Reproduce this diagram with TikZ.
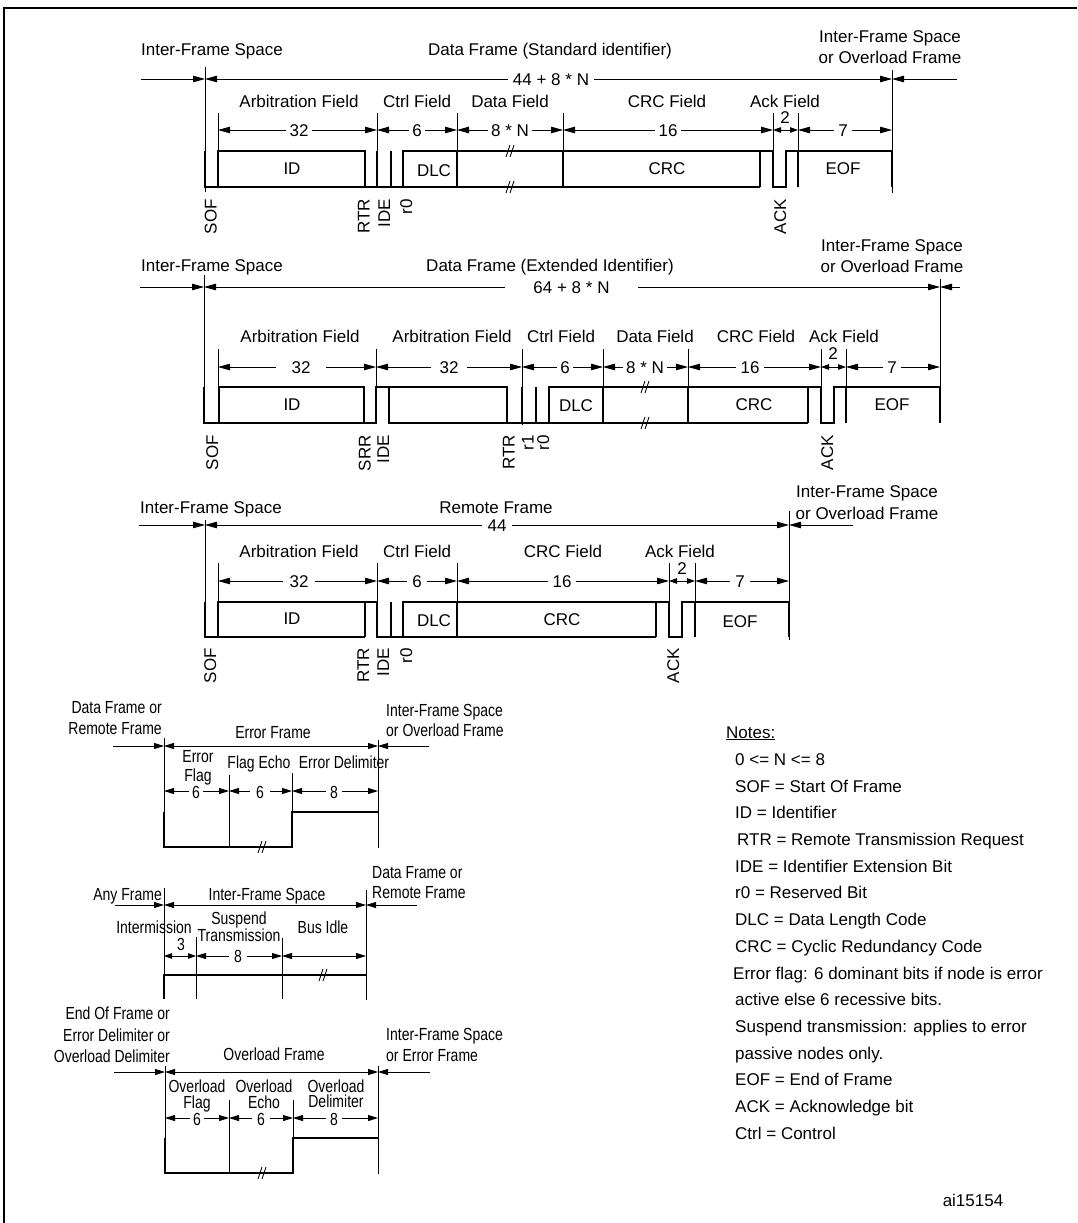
\documentclass[tikz,border=0pt]{standalone}
\usepackage{fontspec}
\setmainfont{Liberation Sans}
\newfontfamily\narrowfont[FakeStretch=0.8]{Liberation Sans}
\usetikzlibrary{arrows.meta}
\newcommand\dimto[5]{\coordinate (#2a) at (#3,#5); \coordinate (#2b) at (#4,#5); \draw[#1] (#2a) -- (#2b);}
\newcommand\brk[3]{\draw[thinln] (#2-4,#3+6) -- (#2,#3-6) (#2,#3+6) -- (#2+4,#3-6);}
\begin{document}
\begin{tikzpicture}[x=1pt,y=-1pt,
  thinln/.style={line width=0.9pt},
  wave/.style={line width=1.9pt, line join=miter},
  dimL/.style={line width=0.9pt, {Triangle[length=12pt,width=6.5pt]}-{Triangle[length=12pt,width=6.5pt]}},
  dimM/.style={line width=0.9pt, {Triangle[length=10pt,width=6pt]}-{Triangle[length=10pt,width=6pt]}},
  dimS/.style={line width=0.9pt, {Triangle[length=8pt,width=5.5pt]}-{Triangle[length=8pt,width=5.5pt]}},
  inL/.style={line width=0.9pt, -{Triangle[length=12pt,width=6.5pt]}},
  inM/.style={line width=0.9pt, -{Triangle[length=10pt,width=6pt]}},
  txt/.style={font=\fontsize{17}{20}\selectfont, inner sep=0pt, text height=12.2pt, text depth=0pt},
  ntxt/.style={font=\narrowfont\fontsize{17.5}{20}\selectfont, inner sep=0pt, text height=12.5pt, text depth=0pt},
  num/.style={txt, fill=white, inner ysep=1pt},
  nnum/.style={ntxt, fill=white, inner ysep=0pt},
  rot/.style={txt, rotate=90, anchor=east},
  note/.style={txt, anchor=west},
]
\useasboundingbox (0,0) rectangle (1077,1223);
% frame
\draw[line width=1.5pt] (4,1223) -- (4,8) -- (1077,8);

%% ================= Section 1: standard data frame
\node[txt] (s1ifs) at (212,49) {Inter-Frame Space};
\node[txt] (s1tt) at (550,49) {Data Frame (Standard identifier)};
\node[txt] (s1ra) at (890,36.5) {Inter-Frame Space};
\node[txt] (s1rb) at (890,57.5) {or Overload Frame};
\draw[thinln] (205,67) -- (205,192);
\draw[thinln] (892,70) -- (892,193);
\coordinate (s1o1) at (141,79); \coordinate (s1L) at (205,79);
\coordinate (s1R) at (892,79); \coordinate (s1o2) at (957,79);
\draw[inL] (s1o1) -- (s1L);
\draw[inL] (s1o2) -- (s1R);
\draw[dimL] (s1L) -- (s1R);
\node[num, inner xsep=5pt] (s1tot) at (551,79) {44 + 8 * N};
\node[txt] (s1f1) at (299,101) {Arbitration Field};
\node[txt] (s1f2) at (417,101) {Ctrl Field};
\node[txt] (s1f3) at (510,101) {Data Field};
\node[txt] (s1f4) at (667,101) {CRC Field};
\node[txt] (s1f5) at (785,101) {Ack Field};
\draw[thinln] (218,113) -- (218,151);
\draw[thinln] (377,113) -- (377,187);
\draw[thinln] (457,113) -- (457,187);
\draw[thinln] (563,113) -- (563,187);
\draw[thinln] (773,113) -- (773,151);
\draw[thinln] (798,113) -- (798,187);
\dimto{dimL}{s1d1}{218}{377}{130}
\dimto{dimL}{s1d2}{377}{457}{130}
\dimto{dimL}{s1d3}{457}{563}{130}
\dimto{dimL}{s1d4}{563}{773}{130}
\dimto{dimS}{s1d5}{773}{798}{130}
\dimto{dimL}{s1d6}{798}{892}{130}
\node[num, inner xsep=4pt] (s1n1) at (299,130) {32};
\node[num, inner xsep=3pt] (s1n2) at (417,130) {6};
\node[num, inner xsep=3pt] (s1n3) at (510,130) {8 * N};
\node[num, inner xsep=4pt] (s1n4) at (668,130) {16};
\node[txt] (s1n5) at (785,117) {2};
\node[num, inner xsep=4pt] (s1n6) at (843,130) {7};
\draw[wave] (205,151) -- (205,187) -- (760,187);
\draw[wave] (218,187) -- (218,151) -- (365,151) -- (365,187);
\draw[wave] (377,151) -- (377,187);
\draw[wave] (391,151) -- (391,187);
\draw[wave] (403,187) -- (403,151) -- (773,151) -- (773,187) -- (786,187) -- (786,151) -- (892,151) -- (892,187);
\draw[wave] (457,151) -- (457,187);
\draw[wave] (563,151) -- (563,187);
\draw[wave] (760,151) -- (760,187);
\draw[wave] (798,151) -- (798,187);
\brk{}{510}{151} \brk{}{510}{187}
\node[txt] (s1id) at (292,168) {ID};
\node[txt] (s1dlc) at (434,170) {DLC};
\node[txt] (s1crc) at (667,168) {CRC};
\node[txt] (s1eof) at (843,168) {EOF};
\node[rot] (s1sof) at (210.5,199) {SOF};
\node[rot] (s1rtr) at (363.5,199) {RTR};
\node[rot] (s1ide) at (384,199) {IDE};
\node[rot] (s1r0) at (406,199) {r0};
\node[rot] (s1ack) at (780,199) {ACK};

%% ================= Section 2: extended data frame
\node[txt] (s2ifs) at (212,265) {Inter-Frame Space};
\node[txt] (s2tt) at (550,265) {Data Frame (Extended Identifier)};
\node[txt] (s2ra) at (892,245) {Inter-Frame Space};
\node[txt] (s2rb) at (892,266) {or Overload Frame};
\draw[thinln] (204,275) -- (204,423);
\draw[thinln] (940,279) -- (940,423);
\coordinate (s2o1) at (140,287); \coordinate (s2L) at (204,287);
\coordinate (s2R) at (940,287); \coordinate (s2o2) at (960,287);
\draw[inL] (s2o1) -- (s2L);
\draw[inL] (s2o2) -- (s2R);
\draw[dimL] (s2L) -- (s2R);
\node[num, inner xsep=28pt] (s2tot) at (571.5,287) {64 + 8 * N};
\node[txt] (s2f1) at (300,336) {Arbitration Field};
\node[txt] (s2f2) at (452,336) {Arbitration Field};
\node[txt] (s2f3) at (561,336) {Ctrl Field};
\node[txt] (s2f4) at (655,336) {Data Field};
\node[txt] (s2f5) at (756,336) {CRC Field};
\node[txt] (s2f6) at (844,336) {Ack Field};
\draw[thinln] (218,349) -- (218,387);
\draw[thinln] (376,349) -- (376,423);
\draw[thinln] (522,349) -- (522,425);
\draw[thinln] (603,349) -- (603,423);
\draw[thinln] (688,349) -- (688,423);
\draw[thinln] (821,349) -- (821,387);
\draw[thinln] (846,349) -- (846,423);
\dimto{dimL}{s2d1}{218}{376}{367}
\dimto{dimL}{s2d2}{376}{522}{367}
\dimto{dimL}{s2d3}{522}{603}{367}
\dimto{dimL}{s2d4}{603}{688}{367}
\dimto{dimL}{s2d5}{688}{821}{367}
\dimto{dimS}{s2d6}{821}{846}{367}
\dimto{dimL}{s2d7}{846}{940}{367}
\node[num, inner xsep=16pt] (s2n1) at (301,367) {32};
\node[num, inner xsep=9pt] (s2n2) at (449,367) {32};
\node[num, inner xsep=3pt] (s2n3) at (565,367) {6};
\node[num, inner xsep=3pt] (s2n4) at (645,367) {8 * N};
\node[num, inner xsep=5pt] (s2n5) at (750,367) {16};
\node[txt] (s2n6) at (833,353) {2};
\node[num, inner xsep=4pt] (s2n7) at (892,367) {7};
\draw[wave] (204,387) -- (204,423) -- (376,423) -- (376,387) -- (389,387) -- (389,423) -- (808,423);
\draw[wave] (219,423) -- (219,387) -- (364,387) -- (364,423);
\draw[wave] (389,387) -- (507,387) -- (507,423);
\draw[wave] (522,387) -- (522,423);
\draw[wave] (536,387) -- (536,423);
\draw[wave] (549,423) -- (549,387) -- (821,387) -- (821,423) -- (834,423) -- (834,387) -- (940,387) -- (940,423);
\draw[wave] (603,387) -- (603,423);
\draw[wave] (688,387) -- (688,423);
\draw[wave] (808,387) -- (808,423);
\draw[wave] (846,387) -- (846,423);
\brk{}{645}{387} \brk{}{645}{423}
\node[txt] (s2id) at (292,404) {ID};
\node[txt] (s2dlc) at (576,405) {DLC};
\node[txt] (s2crc) at (754,404) {CRC};
\node[txt] (s2eof) at (892,404) {EOF};
\node[rot] (s2sof) at (212,435) {SOF};
\node[rot] (s2srr) at (364.5,435) {SRR};
\node[rot] (s2ide) at (383,435) {IDE};
\node[rot] (s2rtr) at (508.5,435) {RTR};
\node[rot] (s2r1) at (527.5,435) {r1};
\node[rot] (s2r0) at (543,435) {r0};
\node[rot] (s2ack) at (827,435) {ACK};

%% ================= Section 3: remote frame
\node[txt] (s3ifs) at (211,507.5) {Inter-Frame Space};
\node[txt] (s3tt) at (496,507.5) {Remote Frame};
\node[txt] (s3ra) at (867,491.5) {Inter-Frame Space};
\node[txt] (s3rb) at (867,513) {or Overload Frame};
\draw[thinln] (205,520) -- (205,637);
\draw[thinln] (789,511) -- (789,640);
\coordinate (s3o1) at (139,525); \coordinate (s3L) at (205,525);
\coordinate (s3R) at (789,525); \coordinate (s3o2) at (853,525);
\draw[inL] (s3o1) -- (s3L);
\draw[inL] (s3o2) -- (s3R);
\draw[dimL] (s3L) -- (s3R);
\node[num, inner xsep=5.5pt] (s3tot) at (497,525) {44};
\node[txt] (s3f1) at (299,551) {Arbitration Field};
\node[txt] (s3f2) at (417,551) {Ctrl Field};
\node[txt] (s3f3) at (563,551) {CRC Field};
\node[txt] (s3f4) at (680,551) {Ack Field};
\draw[thinln] (218,563) -- (218,602);
\draw[thinln] (377,563) -- (377,637);
\draw[thinln] (457,563) -- (457,637);
\draw[thinln] (669,563) -- (669,602);
\draw[thinln] (695,563) -- (695,637);
\dimto{dimL}{s3d1}{218}{377}{581}
\dimto{dimL}{s3d2}{377}{457}{581}
\dimto{dimL}{s3d3}{457}{669}{581}
\dimto{dimS}{s3d4}{669}{695}{581}
\dimto{dimL}{s3d5}{695}{789}{581}
\node[num, inner xsep=7pt] (s3n1) at (299,581) {32};
\node[num, inner xsep=5pt] (s3n2) at (417,581) {6};
\node[num, inner xsep=4.5pt] (s3n3) at (562,581) {16};
\node[txt] (s3n4) at (682,568) {2};
\node[num, inner xsep=5.5pt] (s3n5) at (740,581) {7};
\draw[wave] (205,602) -- (205,637) -- (365,637);
\draw[wave] (218,637) -- (218,602) -- (377,602) -- (377,637) -- (656,637);
\draw[wave] (365,602) -- (365,637);
\draw[wave] (391,602) -- (391,637);
\draw[wave] (403,637) -- (403,602) -- (669,602) -- (669,637) -- (682,637) -- (682,602) -- (789,602) -- (789,637);
\draw[wave] (457,602) -- (457,637);
\draw[wave] (656,602) -- (656,637);
\draw[wave] (695,602) -- (695,637);
\node[txt] (s3id) at (292,618) {ID};
\node[txt] (s3dlc) at (434,620) {DLC};
\node[txt] (s3crc) at (562,619) {CRC};
\node[txt] (s3eof) at (740,621) {EOF};
\node[rot] (s3sof) at (210,648) {SOF};
\node[rot] (s3rtr) at (363,648) {RTR};
\node[rot] (s3ide) at (383,648) {IDE};
\node[rot] (s3r0) at (406,648) {r0};
\node[rot] (s3ack) at (673,648) {ACK};

%% ================= Section 4: error frame
\node[ntxt, anchor=east] (s4la) at (162,707.5) {Data Frame or};
\node[ntxt, anchor=east] (s4lb) at (162,728) {Remote Frame};
\node[ntxt] (s4tt) at (273,732) {Error Frame};
\node[ntxt, anchor=west] (s4ra) at (386,710) {Inter-Frame Space};
\node[ntxt, anchor=west] (s4rb) at (386,730) {or Overload Frame};
\draw[thinln] (164,738) -- (164,847);
\draw[thinln] (378,740) -- (378,848);
\coordinate (s4o1) at (113,746); \coordinate (s4L) at (164,746);
\coordinate (s4R) at (378,746); \coordinate (s4o2) at (429,746);
\draw[inM] (s4o1) -- (s4L);
\draw[inM] (s4o2) -- (s4R);
\draw[dimM] (s4L) -- (s4R);
\node[ntxt] (s4f1a) at (198,756) {Error};
\node[ntxt] (s4f1b) at (198,775) {Flag};
\node[ntxt] (s4f2) at (259,762) {Flag Echo};
\node[ntxt] (s4f3) at (344,762) {Error Delimiter};
\draw[thinln] (229,775) -- (229,847);
\draw[thinln] (292,773) -- (292,812);
\dimto{dimM}{s4d1}{164}{229}{791}
\dimto{dimM}{s4d2}{229}{292}{791}
\dimto{dimM}{s4d3}{292}{378}{791}
\node[nnum, inner xsep=3pt] (s4n1) at (196,792) {6};
\node[nnum, inner xsep=6pt] (s4n2) at (260,792) {6};
\node[nnum, inner xsep=4pt] (s4n3) at (334,792) {8};
\draw[wave] (164,812) -- (164,847) -- (292,847) -- (292,812) -- (378,812);
\brk{}{262}{847}

%% ================= Section 5: inter-frame space
\node[ntxt, anchor=east] (s5la) at (162,894) {Any Frame};
\node[ntxt] (s5tt) at (267,894) {Inter-Frame Space};
\node[ntxt, anchor=west] (s5ra) at (372,872) {Data Frame or};
\node[ntxt, anchor=west] (s5rb) at (372,892) {Remote Frame};
\draw[thinln] (164,888) -- (164,999);
\draw[thinln] (366,890) -- (366,1000);
\coordinate (s5o1) at (115,905); \coordinate (s5L) at (164,905);
\coordinate (s5R) at (366,905); \coordinate (s5o2) at (417,905);
\draw[inM] (s5o1) -- (s5L);
\draw[inM] (s5o2) -- (s5R);
\draw[dimM] (s5L) -- (s5R);
\node[ntxt] (s5f1) at (154,927) {Intermission};
\node[ntxt] (s5f2a) at (239,918) {Suspend};
\node[ntxt] (s5f2b) at (239,935) {Transmission};
\node[ntxt] (s5f3) at (323,927) {Bus Idle};
\node[ntxt] (s5n1) at (181,944) {3};
\draw[thinln] (196,937) -- (196,999);
\draw[thinln] (282,938) -- (282,999);
\dimto{dimS}{s5d1}{164}{196}{956}
\dimto{dimM}{s5d2}{196}{282}{956}
\dimto{dimM}{s5d3}{282}{366}{956}
\node[nnum, inner xsep=5pt] (s5n2) at (238,956) {8};
\draw[wave] (164,999) -- (164,975) -- (366,975);
\brk{}{323}{975}

%% ================= Section 6: overload frame
\node[ntxt, anchor=east] (s6la) at (170,1013) {End Of Frame or};
\node[ntxt, anchor=east] (s6lb) at (170,1035) {Error Delimiter or};
\node[ntxt, anchor=east] (s6lc) at (170,1056) {Overload Delimiter};
\node[ntxt] (s6tt) at (274,1054) {Overload Frame};
\node[ntxt, anchor=west] (s6ra) at (386,1034) {Inter-Frame Space};
\node[ntxt, anchor=west] (s6rb) at (386,1055) {or Error Frame};
\draw[thinln] (165,1066) -- (165,1173);
\draw[thinln] (378,1066) -- (378,1174);
\coordinate (s6o1) at (114,1072); \coordinate (s6L) at (165,1072);
\coordinate (s6R) at (378,1072); \coordinate (s6o2) at (430,1072);
\draw[inM] (s6o1) -- (s6L);
\draw[inM] (s6o2) -- (s6R);
\draw[dimM] (s6L) -- (s6R);
\node[ntxt] (s6f1a) at (197,1086) {Overload};
\node[ntxt] (s6f1b) at (197,1102) {Flag};
\node[ntxt] (s6f2a) at (264,1086) {Overload};
\node[ntxt] (s6f2b) at (264,1102) {Echo};
\node[ntxt] (s6f3a) at (336,1086) {Overload};
\node[ntxt] (s6f3b) at (336,1101) {Delimiter};
\draw[thinln] (229,1100) -- (229,1173);
\draw[thinln] (293,1100) -- (293,1138);
\dimto{dimM}{s6d1}{165}{229}{1118}
\dimto{dimM}{s6d2}{229}{293}{1118}
\dimto{dimM}{s6d3}{293}{378}{1118}
\node[nnum, inner xsep=3pt] (s6n1) at (197,1119) {6};
\node[nnum, inner xsep=5pt] (s6n2) at (261,1119) {6};
\node[nnum, inner xsep=4pt] (s6n3) at (334,1119) {8};
\draw[wave] (165,1138) -- (165,1173) -- (293,1173) -- (293,1138) -- (378,1138);
\brk{}{262}{1173}

%% ================= Notes
\node[note] (nt0) at (726,732) {\underline{Notes:}};
\node[note] (nt1) at (735,759) {0 <= N <= 8};
\node[note] (nt2) at (735,786) {SOF = Start Of Frame};
\node[note] (nt3) at (735,812) {ID = Identifier};
\node[note] (nt4) at (737,839) {RTR = Remote Transmission Request};
\node[note] (nt5) at (735,866) {IDE = Identifier Extension Bit};
\node[note] (nt6) at (735,892) {r0 = Reserved Bit};
\node[note] (nt7) at (735,919) {DLC = Data Length Code};
\node[note] (nt8) at (735,946) {CRC = Cyclic Redundancy Code};
\node[note] (nt9) at (733,973) {Error flag: 6 dominant bits if node is error};
\node[note] (nt10) at (735,999) {active else 6 recessive bits.};
\node[note] (nt11) at (735,1026) {Suspend transmission: applies to error};
\node[note] (nt12) at (735,1053) {passive nodes only.};
\node[note] (nt13) at (735,1079) {EOF = End of Frame};
\node[note] (nt14) at (735,1106) {ACK = Acknowledge bit};
\node[note] (nt15) at (735,1133) {Ctrl = Control};
\node[txt] (code) at (973,1200) {ai15154};
\end{tikzpicture}
\end{document}
